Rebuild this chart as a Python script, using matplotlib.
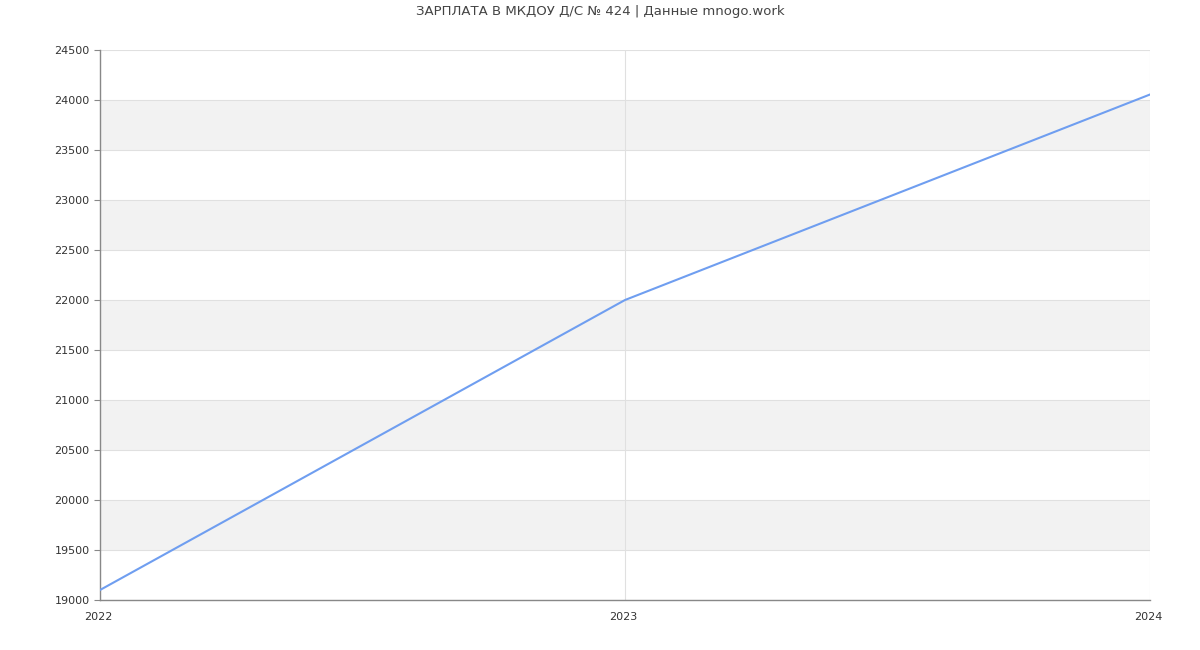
import matplotlib
matplotlib.use("Agg")
import matplotlib.pyplot as plt
from matplotlib.transforms import ScaledTranslation

years = [2022, 2023, 2024]
salary = [19100, 22000, 24055]
yticks = list(range(19000, 24501, 500))
title = "ЗАРПЛАТА В МКДОУ Д/С № 424 | Данные mnogo.work"

plt.rcParams['font.family'] = ['DejaVu Sans']
fig = plt.figure(figsize=(12, 6.5), dpi=100)
ax = fig.add_axes([100/1200, 50/650, 1050/1200, 550/650])

ax.set_xlim(years[0], years[-1])
ax.set_ylim(yticks[0], yticks[-1])

# alternating bands
for i, y0 in enumerate(yticks[:-1]):
    if i % 2 == 1:
        ax.axhspan(y0, y0 + 500, color='#f2f2f2', zorder=0, lw=0)
for y in yticks:
    ax.axhline(y, color='#e0e0e0', lw=0.8, zorder=1)
for x in years:
    ax.axvline(x, color='#e0e0e0', lw=0.8, zorder=1)

ax.plot(years, salary, color='#6f9ef0', lw=1.5, zorder=3)

ax.set_xticks(years)
ax.set_xticklabels([str(y) for y in years])
ax.set_yticks(yticks)
ax.set_yticklabels([str(y) for y in yticks])
ax.tick_params(axis='both', labelsize=8, colors='#333333', length=4, width=0.8)
ax.tick_params(axis='x', length=0, pad=9)
ax.tick_params(axis='y', color='#888888')
for lbl in ax.get_xticklabels():
    lbl.set_transform(lbl.get_transform() + ScaledTranslation(-2/100, 0, fig.dpi_scale_trans))

for s in ['top', 'right']:
    ax.spines[s].set_visible(False)
for s in ['left', 'bottom']:
    ax.spines[s].set_color('#888888')
    ax.spines[s].set_linewidth(1)

fig.text(0.5, 1 - 12/650, title, ha='center', va='center', fontsize=9.5, color='#444444')

fig.savefig('out.png', dpi=100)
